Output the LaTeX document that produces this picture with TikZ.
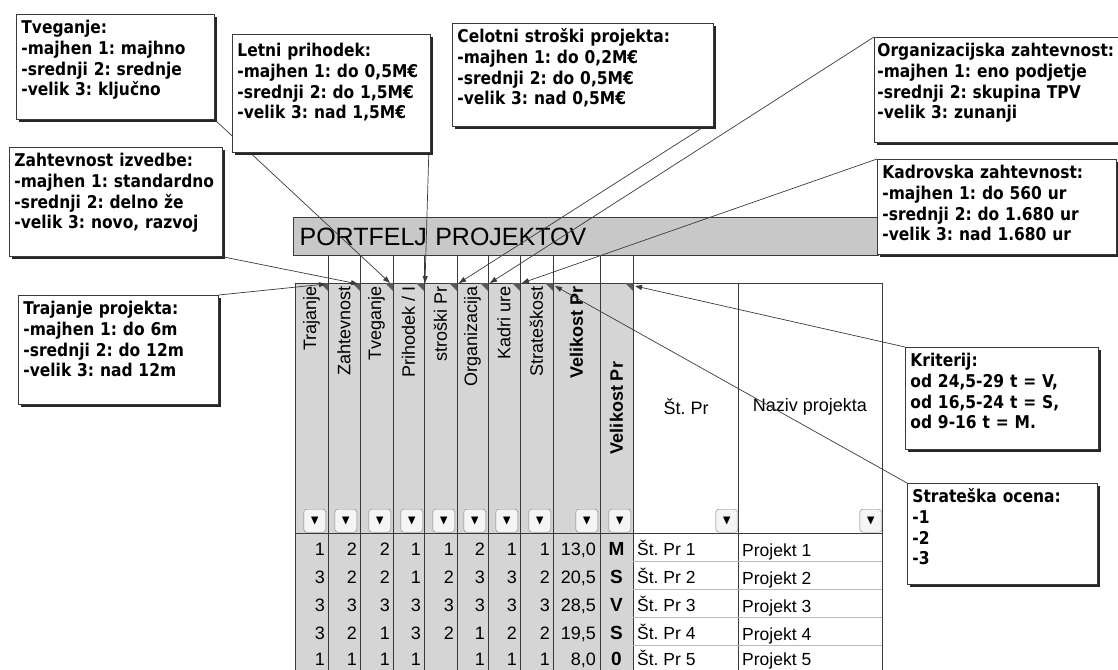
\documentclass[tikz,border=0pt]{standalone}
\usepackage{amssymb}
\usepackage{fontspec}
\setmainfont{Liberation Sans}
\newfontfamily\komfont[FakeStretch=0.88]{DejaVu Sans}
\usetikzlibrary{arrows.meta,shadows}
\frenchspacing
\hyphenpenalty=10000

\pgfdeclarelayer{tabela}
\pgfdeclarelayer{puscice}
\pgfsetlayers{tabela,puscice,main}

\definecolor{siva}{HTML}{D5D5D5}
\definecolor{naslovsiva}{HTML}{C8C8C8}
\definecolor{crta}{HTML}{3A3A3A}
\definecolor{svetla}{HTML}{B8B8B8}

\tikzset{
  komentar/.style={draw=crta, fill=white, line width=0.8pt, anchor=north west,
    align=left, inner sep=5pt, text height=14pt,
    font=\komfont\bfseries\fontsize{17.6}{20.8}\selectfont,
    drop shadow={shadow xshift=3pt, shadow yshift=-3pt, fill=black!85, opacity=1}},
  puscica/.style={draw=crta, line width=0.7pt, -{Triangle[length=7pt,width=5pt]}},
  glava/.style={rotate=90, anchor=east, inner sep=1pt, font=\fontsize{18}{20}\selectfont},
  gumb/.style={draw=gray, fill=gray!8, rounded corners=3pt, minimum width=22pt,
    minimum height=23pt, inner sep=0pt, anchor=north east,
    font=\fontsize{13}{13}\selectfont},
  stevilka/.style={anchor=base east, inner sep=0pt, font=\fontsize{18}{20}\selectfont},
  crka/.style={anchor=base, inner sep=0pt, font=\bfseries\fontsize{19}{20}\selectfont},
  besedilo/.style={anchor=base west, inner sep=0pt, font=\fontsize{17.5}{20}\selectfont},
}

\begin{document}
\begin{tikzpicture}[x=1pt,y=-1pt]
\useasboundingbox (0,0) rectangle (1118,669);

\begin{pgfonlayer}{tabela}
  % naslov
  \node[draw=crta, line width=1.2pt, fill=naslovsiva, anchor=north west,
    minimum height=38pt, text width=573pt, inner xsep=6pt, align=left,
    font=\fontsize{25}{30}\selectfont] (naslov) at (293,217) {PORTFELJ PROJEKTOV};
  % sivi stolpci
  \fill[siva] (295,283) rectangle (633,673);
  \draw[crta, line width=0.7pt] (295,283) -- (882,283);
  \draw[crta, line width=0.7pt] (295,533) -- (882,533);
  \draw[crta, line width=0.7pt] (295,283) -- (295,673);
  \draw[crta, line width=0.7pt] (328,255) -- (328,673);
  \draw[crta, line width=0.7pt] (360,255) -- (360,673);
  \draw[crta, line width=0.7pt] (393,255) -- (393,673);
  \draw[crta, line width=0.7pt] (424,255) -- (424,673);
  \draw[crta, line width=0.7pt] (457,255) -- (457,673);
  \draw[crta, line width=0.7pt] (488,255) -- (488,673);
  \draw[crta, line width=0.7pt] (520,255) -- (520,673);
  \draw[crta, line width=0.7pt] (553,255) -- (553,673);
  \draw[crta, line width=0.7pt] (600,255) -- (600,673);
  \draw[crta, line width=0.7pt] (633,255) -- (633,673);
  \draw[crta, line width=0.7pt] (738,283) -- (738,673);
  \draw[crta, line width=0.7pt] (882,283) -- (882,673);
  \draw[svetla] (633,561) -- (882,561);
  \draw[svetla] (633,589) -- (882,589);
  \draw[svetla] (633,617) -- (882,617);
  \draw[svetla] (633,645) -- (882,645);
  % oznake komentarjev
  \fill[gray!70!black] (320,283) -- (328,283) -- (328,291) -- cycle;
  \fill[gray!70!black] (352,283) -- (360,283) -- (360,291) -- cycle;
  \fill[gray!70!black] (385,283) -- (393,283) -- (393,291) -- cycle;
  \fill[gray!70!black] (416,283) -- (424,283) -- (424,291) -- cycle;
  \fill[gray!70!black] (449,283) -- (457,283) -- (457,291) -- cycle;
  \fill[gray!70!black] (480,283) -- (488,283) -- (488,291) -- cycle;
  \fill[gray!70!black] (512,283) -- (520,283) -- (520,291) -- cycle;
  \fill[gray!70!black] (545,283) -- (553,283) -- (553,291) -- cycle;
  \fill[gray!70!black] (625,283) -- (633,283) -- (633,291) -- cycle;
  % glava
  \node[glava] (h1) at (311.5,285) {Trajanje};
  \node[glava] (h2) at (344,285) {Zahtevnost};
  \node[glava] (h3) at (376.5,285) {Tveganje};
  \node[glava] (h4) at (408.5,285) {Prihodek / I};
  \node[glava] (h5) at (440.5,285) {stroški Pr};
  \node[glava] (h6) at (472.5,285) {Organizacija};
  \node[glava] (h7) at (504,285) {Kadri ure};
  \node[glava] (h8) at (536.5,285) {Strateškost};
  \node[glava, font=\bfseries\fontsize{18}{20}\selectfont] (h9) at (576.5,285) {Velikost Pr};
  \node[glava, anchor=center, font=\bfseries\fontsize{18}{20}\selectfont] (h10) at (616.5,408) {Velikost Pr};
  \node[font=\fontsize{18}{20}\selectfont] (h11) at (686,407) {Št. Pr};
  \node[font=\fontsize{18}{20}\selectfont] (h12) at (810,407) {Naziv projekta};
  % gumbi
  \node[gumb] (g1) at (326,509) {$\blacktriangledown$};
  \node[gumb] (g2) at (357,509) {$\blacktriangledown$};
  \node[gumb] (g3) at (391,509) {$\blacktriangledown$};
  \node[gumb] (g4) at (423,509) {$\blacktriangledown$};
  \node[gumb] (g5) at (455,509) {$\blacktriangledown$};
  \node[gumb] (g6) at (486,509) {$\blacktriangledown$};
  \node[gumb] (g7) at (518,509) {$\blacktriangledown$};
  \node[gumb] (g8) at (551,509) {$\blacktriangledown$};
  \node[gumb] (g9) at (598,509) {$\blacktriangledown$};
  \node[gumb] (g10) at (631,509) {$\blacktriangledown$};
  \node[gumb] (g11) at (738,509) {$\blacktriangledown$};
  \node[gumb] (g12) at (882,509) {$\blacktriangledown$};
  % podatki
  \node[stevilka] (r1c1) at (325,555) {1}; \node[stevilka] (r1c2) at (357,555) {2};
  \node[stevilka] (r1c3) at (390,555) {2}; \node[stevilka] (r1c4) at (421,555) {1};
  \node[stevilka] (r1c5) at (454,555) {1}; \node[stevilka] (r1c6) at (485,555) {2};
  \node[stevilka] (r1c7) at (517,555) {1}; \node[stevilka] (r1c8) at (550,555) {1};
  \node[stevilka] (r1c9) at (596,555) {13,0}; \node[crka] (r1c10) at (616.5,555) {M};
  \node[besedilo] (r1c11) at (637,555) {Št. Pr 1}; \node[besedilo] (r1c12) at (742,556) {Projekt 1};

  \node[stevilka] (r2c1) at (325,583) {3}; \node[stevilka] (r2c2) at (357,583) {2};
  \node[stevilka] (r2c3) at (390,583) {2}; \node[stevilka] (r2c4) at (421,583) {1};
  \node[stevilka] (r2c5) at (454,583) {2}; \node[stevilka] (r2c6) at (485,583) {3};
  \node[stevilka] (r2c7) at (517,583) {3}; \node[stevilka] (r2c8) at (550,583) {2};
  \node[stevilka] (r2c9) at (596,583) {20,5}; \node[crka] (r2c10) at (616.5,583) {S};
  \node[besedilo] (r2c11) at (637,583) {Št. Pr 2}; \node[besedilo] (r2c12) at (742,584) {Projekt 2};

  \node[stevilka] (r3c1) at (325,611) {3}; \node[stevilka] (r3c2) at (357,611) {3};
  \node[stevilka] (r3c3) at (390,611) {3}; \node[stevilka] (r3c4) at (421,611) {3};
  \node[stevilka] (r3c5) at (454,611) {3}; \node[stevilka] (r3c6) at (485,611) {3};
  \node[stevilka] (r3c7) at (517,611) {3}; \node[stevilka] (r3c8) at (550,611) {3};
  \node[stevilka] (r3c9) at (596,611) {28,5}; \node[crka] (r3c10) at (616.5,611) {V};
  \node[besedilo] (r3c11) at (637,611) {Št. Pr 3}; \node[besedilo] (r3c12) at (742,612) {Projekt 3};

  \node[stevilka] (r4c1) at (325,639) {3}; \node[stevilka] (r4c2) at (357,639) {2};
  \node[stevilka] (r4c3) at (390,639) {1}; \node[stevilka] (r4c4) at (421,639) {3};
  \node[stevilka] (r4c5) at (454,639) {2}; \node[stevilka] (r4c6) at (485,639) {1};
  \node[stevilka] (r4c7) at (517,639) {2}; \node[stevilka] (r4c8) at (550,639) {2};
  \node[stevilka] (r4c9) at (596,639) {19,5}; \node[crka] (r4c10) at (616.5,639) {S};
  \node[besedilo] (r4c11) at (637,639) {Št. Pr 4}; \node[besedilo] (r4c12) at (742,640) {Projekt 4};

  \node[stevilka] (r5c1) at (325,665) {1}; \node[stevilka] (r5c2) at (357,665) {1};
  \node[stevilka] (r5c3) at (390,665) {1}; \node[stevilka] (r5c4) at (421,665) {1};
  \node[stevilka] (r5c6) at (485,665) {1};
  \node[stevilka] (r5c7) at (517,665) {1}; \node[stevilka] (r5c8) at (550,665) {1};
  \node[stevilka] (r5c9) at (596,665) {8,0}; \node[crka] (r5c10) at (616.5,665) {0};
  \node[besedilo] (r5c11) at (637,665) {Št. Pr 5}; \node[besedilo] (r5c12) at (742,665) {Projekt 5};
\end{pgfonlayer}

% konci puscic
\coordinate (k1) at (326,284);
\coordinate (k2) at (358,284);
\coordinate (k3) at (390,283);
\coordinate (k4) at (425,283);
\coordinate (k5) at (459,283);
\coordinate (k6) at (490,283);
\coordinate (k7) at (522,283);
\coordinate (k8) at (555,286);
\coordinate (k10) at (635,286);

% komentarji
\node[komentar, text width=188pt, text depth=81pt] (tveg) at (16,14)
  {Tveganje:\\-majhen 1: majhno\\-srednji 2: srednje\\-velik 3: ključno};
\node[komentar, text width=188pt, text depth=91pt, text height=17pt] (letni) at (232,34)
  {Letni prihodek:\\-majhen 1: do 0,5M€\\-srednji 2: do 1,5M€\\-velik 3: nad 1,5M€};
\node[komentar, text width=203pt, text depth=85pt] (zaht) at (9,147)
  {Zahtevnost izvedbe:\\-majhen 1: standardno\\-srednji 2: delno že\\-velik 3: novo, razvoj};
\node[komentar, text width=251pt, text depth=79pt] (strosk) at (452,23)
  {Celotni stroški projekta:\\-majhen 1: do 0,2M€\\-srednji 2: do 0,5M€\\-velik 3: nad 0,5M€};
\node[komentar, text width=238pt, inner xsep=3pt, text depth=81pt] (organ) at (874,37)
  {Organizacijska zahtevnost:\\-majhen 1: eno podjetje\\-srednji 2: skupina TPV\\-velik 3: zunanji};
\node[komentar, text width=229pt, text depth=71pt] (kadr) at (877,159)
  {Kadrovska zahtevnost:\\-majhen 1: do 560 ur\\-srednji 2: do 1.680 ur\\-velik 3: nad 1.680 ur};
\node[komentar, text width=190pt, text depth=85pt] (traj) at (18,295)
  {Trajanje projekta:\\-majhen 1: do 6m\\-srednji 2: do 12m\\-velik 3: nad 12m};
\node[komentar, text width=183pt, text depth=78pt] (krit) at (905,347)
  {Kriterij:\\od 24,5-29 t = V,\\od 16,5-24 t = S,\\od 9-16 t = M.};
\node[komentar, text width=180pt, text depth=77pt] (strat) at (907,483)
  {Strateška ocena:\\-1\\-2\\-3};

\begin{pgfonlayer}{puscice}
  \draw[puscica] (traj.north east) -- (k1);
  \draw[puscica] (zaht.south east) -- (k2);
  \draw[puscica] (tveg.south east) -- (k3);
  \draw[puscica] ([xshift=-2pt]letni.south east) -- (k4);
  \draw[puscica] ([xshift=-10pt]strosk.south east) -- (k5);
  \draw[puscica] (organ.north west) -- (k6);
  \draw[puscica] (kadr.north west) -- (k7);
  \draw[puscica] (strat.north west) -- (k8);
  \draw[puscica] (krit.north west) -- (k10);
\end{pgfonlayer}
\end{tikzpicture}
\end{document}
